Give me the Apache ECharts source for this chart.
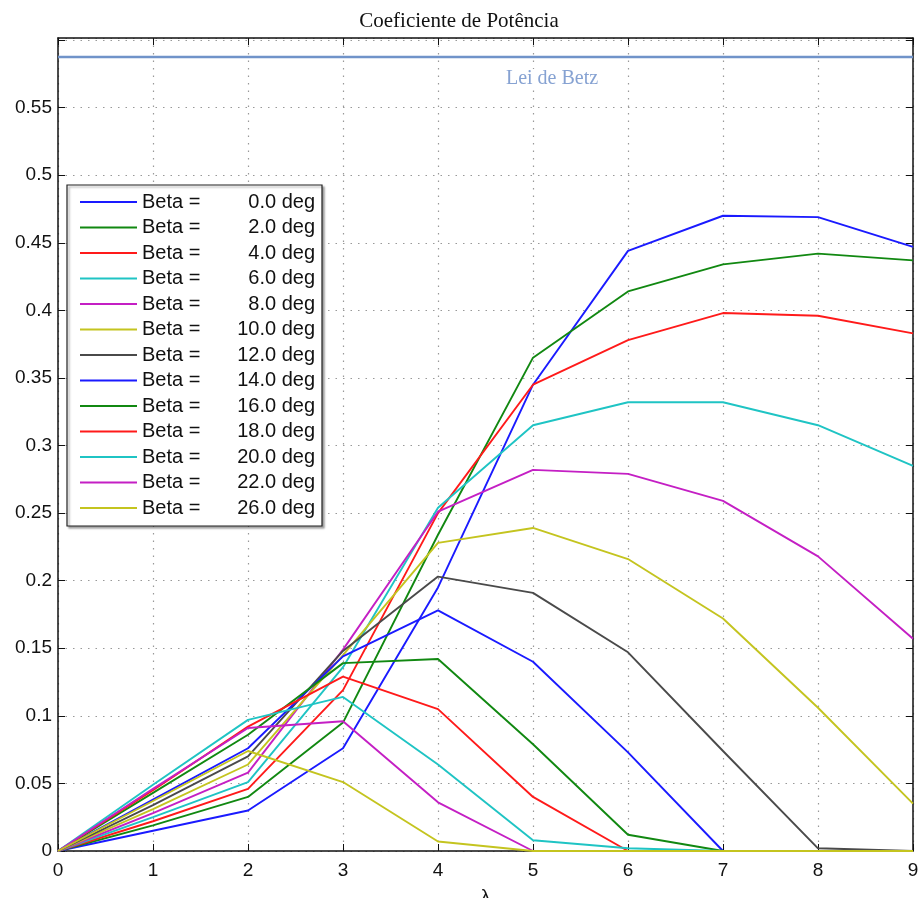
<!DOCTYPE html>
<html>
<head>
<meta charset="utf-8">
<script src="https://cdn.jsdelivr.net/npm/echarts@6/dist/echarts.min.js"></script>
<style>
  html, body { margin: 0; padding: 0; background: #fff; overflow: hidden; }
  #chart { width: 918px; height: 898px; }
</style>
</head>
<body>
<div id="chart"></div>
<script>
// tip speed ratio
const lambdas = [0, 1, 2, 3, 4, 5, 6, 7, 8, 9]
// pitch angles (deg) shown in the legend
const betas = ['0.0', '2.0', '4.0', '6.0', '8.0', '10.0', '12.0', '14.0', '16.0', '18.0', '20.0', '22.0', '26.0']
// Cp for each beta
const cp0  = [0, 0.015, 0.030, 0.076, 0.195, 0.345, 0.444, 0.470, 0.469, 0.447]
const cp2  = [0, 0.019, 0.040, 0.095, 0.234, 0.365, 0.414, 0.434, 0.442, 0.437]
const cp4  = [0, 0.022, 0.046, 0.119, 0.250, 0.345, 0.378, 0.398, 0.396, 0.383]
const cp6  = [0, 0.025, 0.051, 0.136, 0.254, 0.315, 0.332, 0.332, 0.315, 0.285]
const cp8  = [0, 0.028, 0.058, 0.149, 0.251, 0.282, 0.279, 0.259, 0.218, 0.157]
const cp10 = [0, 0.031, 0.064, 0.145, 0.228, 0.239, 0.216, 0.172, 0.106, 0.035]
const cp12 = [0, 0.034, 0.070, 0.148, 0.203, 0.191, 0.147, 0.074, 0.002, 0.000]
const cp14 = [0, 0.038, 0.076, 0.144, 0.178, 0.140, 0.073, 0.000, 0.000, 0.000]
const cp16 = [0, 0.043, 0.086, 0.139, 0.142, 0.079, 0.012, 0.000, 0.000, 0.000]
const cp18 = [0, 0.045, 0.092, 0.129, 0.105, 0.040, 0.000, 0.000, 0.000, 0.000]
const cp20 = [0, 0.049, 0.097, 0.114, 0.064, 0.008, 0.002, 0.000, 0.000, 0.000]
const cp22 = [0, 0.046, 0.091, 0.096, 0.036, 0.000, 0.000, 0.000, 0.000, 0.000]
const cp26 = [0, 0.037, 0.074, 0.051, 0.007, 0.000, 0.000, 0.000, 0.000, 0.000]
const allCp = [cp0, cp2, cp4, cp6, cp8, cp10, cp12, cp14, cp16, cp18, cp20, cp22, cp26]
// Betz limit as drawn
const BETZ = 0.5875
const betzLabelAt = 5.2

// matlab-ish colour cycle
const colors = ['#1a1aff', '#118811', '#ff1a1a', '#1fc4c4', '#c41fc4', '#c4c41f', '#4a4a4a']

const chart = echarts.init(document.getElementById('chart'))

const names = betas.map(b => 'Beta = ' + b + ' deg')

const series = allCp.map((vals, i) => {
  return {
    name: names[i],
    type: 'line',
    data: lambdas.map((x, k) => [x, vals[k]]),
    symbol: 'none',
    lineStyle: { width: 1.9, color: colors[i % colors.length] },
    itemStyle: { color: colors[i % colors.length] },
    z: 3 + i
  }
})

// Betz limit line and its label
series.push({
  name: 'Lei de Betz',
  type: 'line',
  data: [[lambdas[0], BETZ], [lambdas[lambdas.length - 1], BETZ]],
  symbol: 'none',
  lineStyle: { width: 2.5, color: '#7093c9' },
  z: 2,
  markPoint: {
    symbol: 'circle',
    symbolSize: 1,
    itemStyle: { color: 'rgba(0,0,0,0)' },
    label: {
      show: true,
      formatter: 'Lei de Betz',
      offset: [0, 22],
      color: '#86a2d2',
      backgroundColor: '#fff',
      padding: [0, 2],
      fontFamily: 'Liberation Serif',
      fontSize: 20
    },
    data: [{ coord: [betzLabelAt, BETZ] }]
  }
})

const tickFont = { fontFamily: 'Liberation Sans', fontSize: 19, color: '#111' }

const option = {
  animation: false,
  backgroundColor: '#fff',
  title: {
    text: 'Coeficiente de Potência',
    left: 'center',
    top: 6,
    textStyle: {
      fontFamily: 'Liberation Serif',
      fontSize: 21,
      fontWeight: 'normal',
      color: '#111'
    }
  },
  grid: { left: 58, right: 5, top: 38, bottom: 47, outerBoundsMode: 'none', containLabel: false },
  legend: {
    data: names,
    orient: 'vertical',
    left: 67,
    top: 185,
    padding: [7, 7, 8, 13],
    icon: 'rect',
    itemWidth: 57,
    itemHeight: 2,
    itemGap: 5.5,
    selectedMode: false,
    backgroundColor: '#fff',
    borderColor: '#222',
    borderWidth: 1.2,
    shadowColor: 'rgba(0,0,0,0.35)',
    shadowBlur: 2,
    shadowOffsetX: 2,
    shadowOffsetY: 2,
    formatter: name => {
      const v = name.replace('Beta = ', '')
      return '{a|Beta =}{b|' + v + '}'
    },
    textStyle: {
      rich: {
        a: { width: 78, fontFamily: 'Liberation Sans', fontSize: 20, color: '#111', lineHeight: 20 },
        b: { width: 95, align: 'right', fontFamily: 'Liberation Sans', fontSize: 20, color: '#111', lineHeight: 20 }
      }
    }
  },
  xAxis: [
    {
      type: 'value',
      min: 0,
      max: 9,
      interval: 1,
      position: 'bottom',
      name: 'λ',
      nameLocation: 'middle',
      nameGap: 36,
      nameTextStyle: tickFont,
      axisLine: { show: true, onZero: false, lineStyle: { color: '#111', width: 1.5 } },
      axisTick: { show: true, inside: true, length: 7, lineStyle: { color: '#111' } },
      axisLabel: Object.assign({ margin: 10 }, tickFont),
      splitLine: { show: true, lineStyle: { color: '#999', type: [1.5, 6], width: 1.2 } }
    },
    {
      type: 'value',
      min: 0,
      max: 9,
      interval: 1,
      position: 'top',
      axisLine: { show: true, onZero: false, lineStyle: { color: '#111', width: 1.5 } },
      axisTick: { show: true, inside: true, length: 7, lineStyle: { color: '#111' } },
      axisLabel: { show: false },
      splitLine: { show: false }
    }
  ],
  yAxis: [
    {
      type: 'value',
      min: 0,
      max: 0.6015,
      interval: 0.05,
      position: 'left',
      axisLine: { show: true, onZero: false, lineStyle: { color: '#111', width: 1.5 } },
      axisTick: { show: true, inside: true, length: 7, lineStyle: { color: '#111' } },
      axisLabel: Object.assign({
        margin: 6,
        showMaxLabel: false,
        formatter: v => (v > 0.59 ? '' : String(+v.toFixed(2)))
      }, tickFont),
      splitLine: { show: true, lineStyle: { color: '#999', type: [1.5, 6], width: 1.2 } }
    },
    {
      type: 'value',
      min: 0,
      max: 0.6015,
      interval: 0.05,
      position: 'right',
      axisLine: { show: true, onZero: false, lineStyle: { color: '#111', width: 1.5 } },
      axisTick: { show: true, inside: true, length: 7, lineStyle: { color: '#111' } },
      axisLabel: { show: false },
      splitLine: { show: false }
    }
  ],
  series: series
}

chart.setOption(option)
</script>
</body>
</html>
